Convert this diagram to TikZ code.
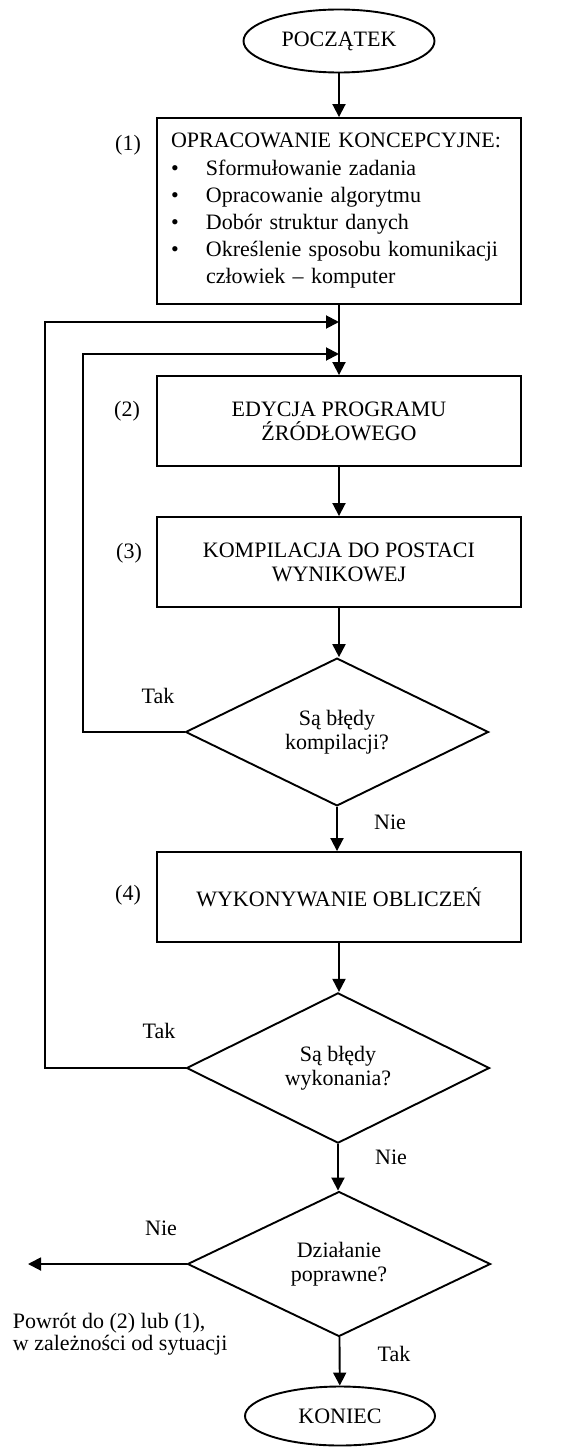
\documentclass[tikz,border=0pt]{standalone}
\usepackage{fontspec}
\setmainfont{Liberation Serif}
\usepackage{tikz}
\usetikzlibrary{positioning}
\usetikzlibrary{shapes.geometric,arrows.meta}

\begin{document}
\begin{tikzpicture}[
      x=1pt, y=-1pt,
      font=\fontsize{22}{24}\selectfont,
      line width=1.9pt,
      terminal/.style={draw, ellipse, minimum width=191pt, minimum height=63pt, inner sep=0pt},
      block/.style={draw, rectangle, minimum width=364pt, minimum height=90pt, align=center, inner sep=0pt},
      decision/.style={draw, diamond, minimum width=303pt, minimum height=145pt, align=center, inner sep=0pt},
      flow/.style={-{Triangle[length=13pt,width=13pt]}}
    ]
    \useasboundingbox (0,0) rectangle (565,1447);

    % main column
    \node[terminal] (start) at (339,41) {POCZĄTEK};
    \node[block, minimum height=186pt, text width=336pt, align=left,
          font=\fontsize{22}{27.2}\selectfont] (concept) at (339,211) {
      OPRACOWANIE KONCEPCYJNE:\\
      \makebox[35pt][l]{\textbullet}Sformułowanie zadania\\
      \makebox[35pt][l]{\textbullet}Opracowanie algorytmu\\
      \makebox[35pt][l]{\textbullet}Dobór struktur danych\\
      \makebox[35pt][l]{\textbullet}Określenie sposobu komunikacji\\
      \hspace*{35pt}człowiek – komputer
    };
    \node[block] (edit) at (339,421) {EDYCJA PROGRAMU\\ŹRÓDŁOWEGO};
    \node[block] (compile) at (339,562) {KOMPILACJA DO POSTACI\\WYNIKOWEJ};
    \node[decision] (comperr) at (337,732) {Są błędy\\kompilacji?};
    \node[block] (run) at (339,897) {WYKONYWANIE OBLICZEŃ};
    \node[decision] (runerr) at (338,1068) {Są błędy\\wykonania?};
    \node[decision] (correct) at (339,1264) {Działanie\\poprawne?};
    \node[terminal, minimum width=190pt, minimum height=59pt] (stop) at (340,1416) {KONIEC};

    % step numbers
    \node (num1) at (128,145) {(1)};
    \node (num2) at (127,411) {(2)};
    \node (num3) at (129,553) {(3)};
    \node (num4) at (128,895) {(4)};

    % answers
    \node (yes1) at (158,696) {Tak};
    \node (no1) at (390,822) {Nie};
    \node (yes2) at (159,1031) {Tak};
    \node (no2) at (391,1157) {Nie};
    \node (no3) at (161,1228) {Nie};
    \node (yes3) at (394,1354) {Tak};
    \node[anchor=west, align=left, inner sep=0pt, font=\fontsize{22}{22}\selectfont]
      (backnote) at (12,1334) {Powrót do (2) lub (1),\\w zależności od sytuacji};

    % joins on the line into (2)
    \coordinate (join1) at (339,322);
    \coordinate (join2) at (339,354);
    \coordinate (back) at (28,1264);

    % connectors
    \draw[flow] (start) -- (concept);
    \draw[flow] (concept) -- (edit);
    \draw[flow] (edit) -- (compile);
    \draw[flow] (compile.south) -- (compile.south |- comperr.north);
    \draw[flow] (comperr.south) -- (comperr.south |- run.north);
    \draw[flow] (run.south) -- (run.south |- runerr.north);
    \draw[flow] (runerr.south) -- (runerr.south |- correct.north);
    \draw[flow] (correct) -- (stop);
    \draw[flow] (comperr.west) -- ++(-102,0) |- (join2);
    \draw[flow] (runerr.west) -- ++(-141,0) |- (join1);
    \draw[flow] (correct.west) -- (back);
\end{tikzpicture}
\end{document}
